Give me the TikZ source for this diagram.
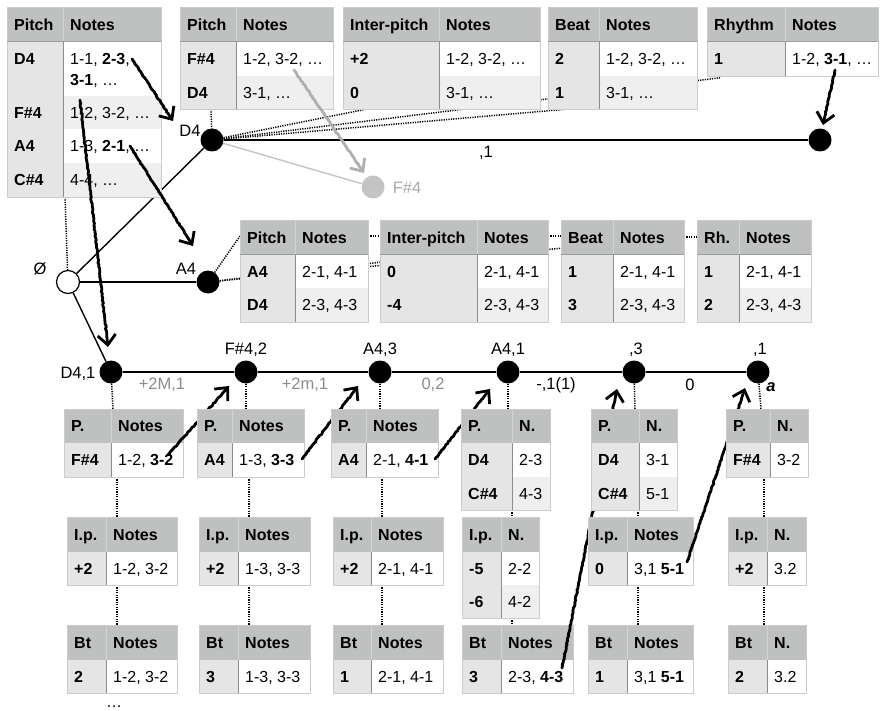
\documentclass[tikz,border=0pt]{standalone}
\usepackage{fontspec}
\setmainfont{Liberation Sans}
\usetikzlibrary{arrows.meta,decorations.pathmorphing}
\definecolor{hdfill}{RGB}{190,193,191}
\definecolor{keyfill}{RGB}{229,229,229}
\definecolor{valb}{RGB}{239,239,239}
\definecolor{cellline}{RGB}{204,204,204}
\definecolor{divline}{RGB}{140,140,140}
\definecolor{hdline}{RGB}{155,157,156}
\definecolor{hdsepc}{RGB}{212,214,213}
\definecolor{ghost}{RGB}{196,196,196}
\definecolor{ghosttext}{RGB}{170,170,170}
\definecolor{edgegray}{RGB}{140,140,140}
\definecolor{handgray}{RGB}{175,175,175}
\newcount\cellno
\newcommand\celltext[3]{\global\advance\cellno by 1
  \node[tt, anchor=base west] (cell\the\cellno) at ({#1},{#2}) {#3};}
\newcommand\thead[7]{%
  \fill[hdfill] (#1,#4) rectangle (#3,#5);
  \draw[hdsep] (#2,#4) -- (#2,#5);
  \draw[cellb] (#1,#5) -- (#1,#4) -- (#3,#4) -- (#3,#5);
  \draw[hdbot] (#1,#5) -- (#3,#5);
  \celltext{#1+7}{(#4+#5)/2+5.7}{\bfseries #6}
  \celltext{#2+7}{(#4+#5)/2+5.7}{\bfseries #7}}
\newcommand\trow[8]{%
  \fill[keyfill] (#1,#4) rectangle (#2,#5);
  \fill[#8] (#2,#4) rectangle (#3,#5);
  \draw[cellb] (#1,#4) -- (#1,#5) -- (#3,#5) -- (#3,#4);
  \draw[divl] (#2,#4) -- (#2,#5);
  \celltext{#1+7}{(#4+#5)/2+5.7}{\bfseries #6}
  \celltext{#2+7}{(#4+#5)/2+5.7}{#7}}
\begin{document}
\begin{tikzpicture}[x=1pt,y=-1pt,
  tt/.style={font=\fontsize{16}{19}\selectfont, inner sep=0pt},
  lbl/.style={font=\fontsize{16.5}{20}\selectfont, inner sep=0pt},
  elbl/.style={lbl, text=edgegray},
  cellb/.style={draw=cellline, line width=0.9pt},
  divl/.style={draw=divline, line width=0.9pt},
  hdsep/.style={draw=hdsepc, line width=0.9pt},
  hdbot/.style={draw=hdline, line width=1pt},
  dot/.style={line width=1.5pt, dash pattern=on 1.2pt off 1.2pt},
  edge/.style={line width=1.4pt},
  vx/.style={circle, fill=black, minimum size=23pt, inner sep=0pt},
  vxw/.style={circle, draw=black, fill=white, line width=1.2pt, minimum size=23pt, inner sep=0pt},
  vxg/.style={circle, fill=ghost, minimum size=23pt, inner sep=0pt},
  hand/.style={line width=2.8pt, line cap=round, line join=round, decorate,
    decoration={random steps, segment length=1.8pt, amplitude=0.5pt, pre length=2pt, post length=10pt},
    -{Straight Barb[length=10pt, width=18pt]}},
  ]
\pgfmathsetseed{7}
\useasboundingbox (0,0) rectangle (880,711);
\fill[white] (0,0) rectangle (880,711);

% ---------- vertices and labels ----------
\node[vxw] (root) at (68,282) {};
\node[vx] (d4) at (212,140) {};
\node[vx] (rh) at (820,140) {};
\node[vxg] (f4g) at (373,187) {};
\node[vx] (a4) at (208,282) {};
\node[vx] (b1) at (111,372) {};
\node[vx] (b2) at (246,372) {};
\node[vx] (b3) at (380,372) {};
\node[vx] (b4) at (508,372) {};
\node[vx] (b5) at (634,372) {};
\node[vx] (b6) at (758,372) {};

\node[lbl] (lroot) at (40,269) {Ø};
\node[lbl] (ld4) at (190,131) {D4};
\node[lbl, text=ghosttext] (lf4g) at (407,188) {F\#4};
\node[lbl] (la4) at (186,269) {A4};
\node[lbl] (lb1) at (78,374) {D4,1};
\node[lbl] (lb2) at (246,350) {F\#4,2};
\node[lbl] (lb3) at (380,350) {A4,3};
\node[lbl] (lb4) at (508,350) {A4,1};
\node[lbl] (lb5) at (636,350) {,3};
\node[lbl] (lb6) at (760,350) {,1};
\node[lbl] (ltop) at (486,153) {,1};
\node[elbl] (e1) at (162,385) {+2M,1};
\node[elbl] (e2) at (305,385) {+2m,1};
\node[elbl] (e3) at (433,385) {0,2};
\node[lbl] (e4) at (556,385) {-,1(1)};
\node[lbl] (e5) at (690,385) {0};
\node[lbl, font=\fontsize{16.5}{20}\selectfont\bfseries\itshape] (la) at (771,387) {a};

% ---------- edges ----------
\draw[edge] (root) -- (d4);
\draw[edge] (root) -- (a4);
\draw[edge] (root) -- (b1);
\draw[edge] (d4) -- (rh);
\draw[edge, draw=ghost] (d4) -- (f4g);
\draw[edge] (b1) -- (b2) -- (b3) -- (b4) -- (b5) -- (b6);

% ---------- dotted links ----------
\coordinate (t1b) at (65,197);
\coordinate (t2b) at (211,109);
\coordinate (l1) at (400,102.4);
\coordinate (l2) at (580,108);
\coordinate (l3) at (720,77.8);
\draw[dot] (t1b) -- (root);
\draw[dot] (t2b) -- (d4);
\draw[dot] (d4) -- (l1);
\draw[dot] (d4) -- (l2);
\draw[dot] (d4) -- (l3);
\coordinate (m1) at (240,236);
\coordinate (m2) at (382,262);
\coordinate (m3) at (563,248);
\draw[dot] (a4) -- (m1);
\draw[dot] (a4) -- (m2);
\draw[dot] (a4) -- (m3);
\coordinate (k1a) at (368,236); \coordinate (k1b) at (380,236);
\coordinate (k2a) at (548,236); \coordinate (k2b) at (561,236);
\coordinate (k3a) at (684,237); \coordinate (k3b) at (697,237);
\draw[dot] (k1a) -- (k1b);
\draw[dot] (k2a) -- (k2b);
\draw[dot] (k3a) -- (k3b);
\foreach \i/\xa/\xb/\pb/\ib in {1/113/117/477/585, 2/246/249/477/585, 3/380/382/477/585, 4/508/512/510/618, 5/635/638/510/585, 6/761/764/477/585}{
  \coordinate (pt\i) at (\xa,409);
  \coordinate (pb\i) at (\xb,\pb);
  \coordinate (it\i) at (\xb,517);
  \coordinate (ib\i) at (\xb,\ib);
  \coordinate (bt\i) at (\xb,625);
  \draw[dot] (b\i) -- (pt\i);
  \draw[dot] (pb\i) -- (it\i);
  \draw[dot] (ib\i) -- (bt\i);
}

% ---------- hand arrow end points ----------
\coordinate (h1s) at (132,59);   \coordinate (h1e) at (173,121);
\coordinate (h2s) at (80,100);   \coordinate (h2e) at (108,347);
\coordinate (h3s) at (130,146);  \coordinate (h3e) at (193,246);
\coordinate (h4s) at (835,70);   \coordinate (h4e) at (823,125);
\coordinate (h5s) at (294,70);   \coordinate (h5e) at (364,173);
\coordinate (h6s) at (168,455);  \coordinate (h6e) at (229,386);
\coordinate (h7s) at (302,459);  \coordinate (h7e) at (358,386);
\coordinate (h8s) at (435,459);  \coordinate (h8e) at (490,389);
\coordinate (h9s) at (562,668);  \coordinate (h9e) at (617,389);
\coordinate (h10s) at (687,562); \coordinate (h10e) at (745,388);

% ---------- top tables ----------
\thead{7}{63}{161}{7}{42}{Pitch}{Notes}
\fill[keyfill] (7,42) rectangle (63,96);
\fill[white] (63,42) rectangle (161,96);
\draw[cellb] (7,42) -- (7,96) -- (161,96) -- (161,42);
\draw[divl] (63,42) -- (63,96);
\celltext{14}{65}{\bfseries D4}
\celltext{70}{65}{1-1, \textbf{2-3},}
\celltext{70}{86}{\textbf{3-1}, …}
\trow{7}{63}{161}{96}{129}{F\#4}{1-2, 3-2, …}{valb}
\trow{7}{63}{161}{129}{163}{A4}{1-3, \textbf{2-1}, …}{white}
\trow{7}{63}{161}{163}{197}{C\#4}{4-4, …}{valb}
\draw[hand] (h1s) -- (h1e);
\draw[hand] (h2s) -- (h2e);
\draw[hand] (h3s) -- (h3e);

\thead{180}{236}{333}{7}{42}{Pitch}{Notes}
\trow{180}{236}{333}{42}{76}{F\#4}{1-2, 3-2, …}{white}
\trow{180}{236}{333}{76}{109}{D4}{3-1, …}{valb}
\draw[hand, draw=handgray] (h5s) -- (h5e);

\thead{343}{439}{540}{7}{42}{Inter-pitch}{Notes}
\trow{343}{439}{540}{42}{76}{+2}{1-2, 3-2, …}{white}
\trow{343}{439}{540}{76}{109}{0}{3-1, …}{valb}

\thead{548}{599}{697}{7}{42}{Beat}{Notes}
\trow{548}{599}{697}{42}{76}{2}{1-2, 3-2, …}{white}
\trow{548}{599}{697}{76}{109}{1}{3-1, …}{valb}

\thead{707}{785}{878}{7}{42}{Rhythm}{Notes}
\trow{707}{785}{878}{42}{76}{1}{1-2, \textbf{3-1}, …}{white}
\draw[hand] (h4s) -- (h4e);

% ---------- middle tables ----------
\thead{240}{295}{368}{220}{255}{Pitch}{Notes}
\trow{240}{295}{368}{255}{288}{A4}{2-1, 4-1}{white}
\trow{240}{295}{368}{288}{322}{D4}{2-3, 4-3}{valb}
\thead{380}{477}{548}{220}{255}{Inter-pitch}{Notes}
\trow{380}{477}{548}{255}{288}{0}{2-1, 4-1}{white}
\trow{380}{477}{548}{288}{322}{-4}{2-3, 4-3}{valb}
\thead{561}{613}{684}{220}{255}{Beat}{Notes}
\trow{561}{613}{684}{255}{288}{1}{2-1, 4-1}{white}
\trow{561}{613}{684}{288}{322}{3}{2-3, 4-3}{valb}
\thead{697}{739}{811}{220}{255}{Rh.}{Notes}
\trow{697}{739}{811}{255}{288}{1}{2-1, 4-1}{white}
\trow{697}{739}{811}{288}{322}{2}{2-3, 4-3}{valb}

% ---------- bottom column 1 ----------
\thead{64}{111}{183}{409}{443}{P.}{Notes}
\trow{64}{111}{183}{443}{477}{F\#4}{1-2, \textbf{3-2}}{white}
\thead{67}{106}{177}{517}{552}{I.p.}{Notes}
\trow{67}{106}{177}{552}{585}{+2}{1-2, 3-2}{white}
\thead{67}{106}{177}{625}{660}{Bt}{Notes}
\trow{67}{106}{177}{660}{693}{2}{1-2, 3-2}{white}
\draw[hand] (h6s) -- (h6e);

% ---------- column 2 ----------
\thead{197}{232}{304}{409}{443}{P.}{Notes}
\trow{197}{232}{304}{443}{477}{A4}{1-3, \textbf{3-3}}{white}
\thead{199}{238}{310}{517}{552}{I.p.}{Notes}
\trow{199}{238}{310}{552}{585}{+2}{1-3, 3-3}{white}
\thead{199}{238}{310}{625}{660}{Bt}{Notes}
\trow{199}{238}{310}{660}{693}{3}{1-3, 3-3}{white}
\draw[hand] (h7s) -- (h7e);

% ---------- column 3 ----------
\thead{331}{366}{438}{409}{443}{P.}{Notes}
\trow{331}{366}{438}{443}{477}{A4}{2-1, \textbf{4-1}}{white}
\thead{333}{371}{443}{517}{552}{I.p.}{Notes}
\trow{333}{371}{443}{552}{585}{+2}{2-1, 4-1}{white}
\thead{333}{371}{443}{625}{660}{Bt}{Notes}
\trow{333}{371}{443}{660}{693}{1}{2-1, 4-1}{white}
\draw[hand] (h8s) -- (h8e);

% ---------- column 4 ----------
\thead{461}{512}{550}{409}{443}{P.}{N.}
\trow{461}{512}{550}{443}{477}{D4}{2-3}{white}
\trow{461}{512}{550}{477}{510}{C\#4}{4-3}{valb}
\thead{462}{501}{539}{517}{552}{I.p.}{N.}
\trow{462}{501}{539}{552}{585}{-5}{2-2}{white}
\trow{462}{501}{539}{585}{618}{-6}{4-2}{valb}
\thead{462}{501}{573}{625}{660}{Bt}{Notes}
\trow{462}{501}{573}{660}{693}{3}{2-3, \textbf{4-3}}{white}
\draw[hand] (h9s) -- (h9e);

% ---------- column 5 ----------
\thead{591}{639}{677}{409}{443}{P.}{N.}
\trow{591}{639}{677}{443}{477}{D4}{3-1}{white}
\trow{591}{639}{677}{477}{510}{C\#4}{5-1}{valb}
\thead{588}{627}{693}{517}{552}{I.p.}{Notes}
\trow{588}{627}{693}{552}{585}{0}{3,1 \textbf{5-1}}{white}
\thead{588}{627}{693}{625}{660}{Bt}{Notes}
\trow{588}{627}{693}{660}{693}{1}{3,1 \textbf{5-1}}{white}
\draw[hand] (h10s) -- (h10e);

% ---------- column 6 ----------
\thead{726}{770}{808}{409}{443}{P.}{N.}
\trow{726}{770}{808}{443}{477}{F\#4}{3-2}{white}
\thead{728}{767}{806}{517}{552}{I.p.}{N.}
\trow{728}{767}{806}{552}{585}{+2}{3.2}{white}
\thead{728}{767}{806}{625}{660}{Bt}{N.}
\trow{728}{767}{806}{660}{693}{2}{3.2}{white}

\celltext{106}{707}{…}
\end{tikzpicture}
\end{document}
